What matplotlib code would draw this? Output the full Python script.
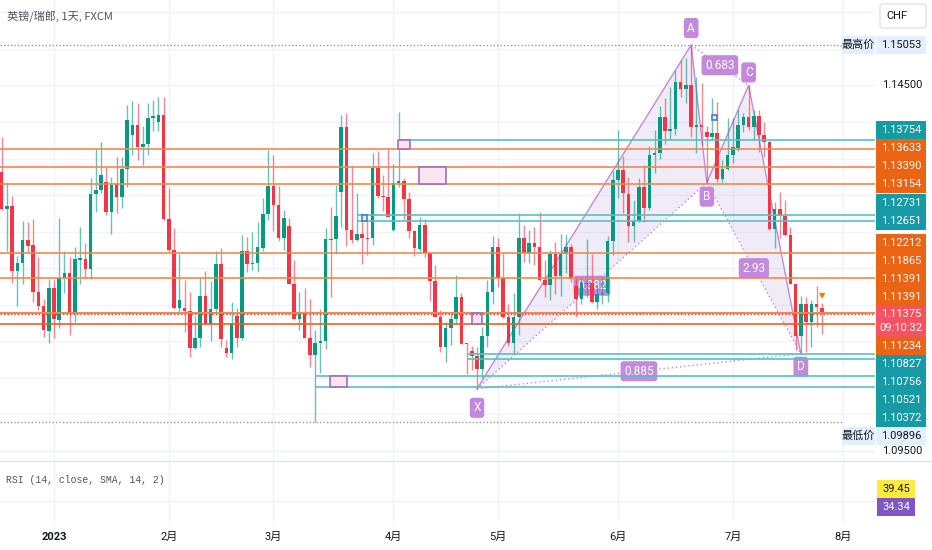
import matplotlib
matplotlib.use('Agg')
import matplotlib.pyplot as plt
from matplotlib.patches import Rectangle, FancyBboxPatch, Polygon
from matplotlib.lines import Line2D
import pandas as pd

plt.rcParams['font.family'] = ['Roboto', 'Noto Sans CJK SC', 'DejaVu Sans']

# GBP/CHF daily candles (from 2022-12-19)
opens = [1.1332, 1.1281, 1.1285, 1.1196, 1.1207, 1.1239, 1.1232, 1.1167, 1.1148, 1.1114,
         1.1173, 1.1129, 1.1187, 1.1193, 1.1137, 1.1211, 1.1213, 1.1199, 1.1302, 1.1307,
         1.1318, 1.1277, 1.1315, 1.1297, 1.1336, 1.1382, 1.1396, 1.1366, 1.1370, 1.1405,
         1.1400, 1.1410, 1.1267, 1.1225, 1.1146, 1.1146, 1.1141, 1.1091, 1.1105, 1.1162,
         1.1124, 1.1144, 1.1206, 1.1091, 1.1084, 1.1135, 1.1105, 1.1224, 1.1206, 1.1207,
         1.1228, 1.1274, 1.1313, 1.1287, 1.1241, 1.1258, 1.1178, 1.1131, 1.1139, 1.1105,
         1.1081, 1.1098, 1.1100, 1.1240, 1.1240, 1.1304, 1.1393, 1.1252, 1.1239, 1.1247,
         1.1241, 1.1241, 1.1337, 1.1299, 1.1297, 1.1252, 1.1317, 1.1319, 1.1295, 1.1251,
         1.1226, 1.1259, 1.1221, 1.1182, 1.1133, 1.1092, 1.1118, 1.1131, 1.1161, 1.1098,
         1.1087, 1.1080, 1.1062, 1.1107, 1.1167, 1.1229, 1.1187, 1.1133, 1.1098, 1.1133,
         1.1241, 1.1221, 1.1235, 1.1229, 1.1184, 1.1177, 1.1219, 1.1189, 1.1219, 1.1229,
         1.1176, 1.1158, 1.1178, 1.1180, 1.1154, 1.1165, 1.1166, 1.1237, 1.1321, 1.1334,
         1.1302, 1.1258, 1.1265, 1.1311, 1.1282, 1.1355, 1.1358, 1.1407, 1.1388, 1.1390,
         1.1455, 1.1445, 1.1451, 1.1393, 1.1396, 1.1386, 1.1379, 1.1385, 1.1322, 1.1336,
         1.1355, 1.1364, 1.1396, 1.1407, 1.1393, 1.1408, 1.1382, 1.1373, 1.1254, 1.1281,
         1.1271, 1.1245, 1.1178, 1.1107, 1.1151, 1.1126, 1.1151, 1.1146]
highs = [1.1379, 1.1317, 1.1299, 1.1217, 1.1265, 1.1263, 1.1267, 1.1215, 1.1158, 1.1185,
         1.1184, 1.1269, 1.1224, 1.1215, 1.1229, 1.1256, 1.1235, 1.1323, 1.1364, 1.1373,
         1.1338, 1.1325, 1.1352, 1.1352, 1.1423, 1.1429, 1.1426, 1.1395, 1.1426, 1.1430,
         1.1434, 1.1434, 1.1310, 1.1255, 1.1219, 1.1184, 1.1167, 1.1135, 1.1188, 1.1196,
         1.1182, 1.1224, 1.1228, 1.1102, 1.1154, 1.1146, 1.1245, 1.1243, 1.1250, 1.1263,
         1.1296, 1.1362, 1.1355, 1.1313, 1.1280, 1.1269, 1.1211, 1.1167, 1.1173, 1.1158,
         1.1116, 1.1144, 1.1255, 1.1284, 1.1314, 1.1410, 1.1412, 1.1341, 1.1303, 1.1276,
         1.1266, 1.1358, 1.1360, 1.1328, 1.1364, 1.1343, 1.1414, 1.1323, 1.1304, 1.1252,
         1.1270, 1.1267, 1.1221, 1.1204, 1.1143, 1.1126, 1.1139, 1.1191, 1.1166, 1.1098,
         1.1094, 1.1092, 1.1120, 1.1184, 1.1244, 1.1241, 1.1221, 1.1151, 1.1166, 1.1276,
         1.1259, 1.1252, 1.1256, 1.1277, 1.1211, 1.1225, 1.1236, 1.1247, 1.1245, 1.1233,
         1.1188, 1.1188, 1.1240, 1.1219, 1.1178, 1.1188, 1.1244, 1.1333, 1.1389, 1.1354,
         1.1325, 1.1293, 1.1323, 1.1341, 1.1367, 1.1389, 1.1422, 1.1433, 1.1448, 1.1471,
         1.1485, 1.1488, 1.15053, 1.1462, 1.1453, 1.1395, 1.1433, 1.1427, 1.1348, 1.1405,
         1.1405, 1.1416, 1.1412, 1.1450, 1.1416, 1.1416, 1.1400, 1.1374, 1.1291, 1.1304,
         1.1293, 1.1256, 1.1178, 1.1162, 1.1161, 1.1157, 1.1176, 1.1152]
lows = [1.1280, 1.1224, 1.1180, 1.1148, 1.1178, 1.1222, 1.1154, 1.1143, 1.1106, 1.1098,
        1.1105, 1.1118, 1.1166, 1.1109, 1.1126, 1.1178, 1.1185, 1.1185, 1.1277, 1.1303,
        1.1273, 1.1247, 1.1276, 1.1282, 1.1311, 1.1355, 1.1348, 1.1341, 1.1355, 1.1388,
        1.1388, 1.1266, 1.1222, 1.1144, 1.1139, 1.1113, 1.1079, 1.1090, 1.1092, 1.1122,
        1.1100, 1.1140, 1.1092, 1.1079, 1.1076, 1.1092, 1.1102, 1.1195, 1.1198, 1.1195,
        1.1224, 1.1266, 1.1251, 1.1237, 1.1225, 1.1178, 1.1129, 1.1116, 1.1105, 1.1065,
        1.09896, 1.1057, 1.1090, 1.1161, 1.1219, 1.1256, 1.1230, 1.1235, 1.1237, 1.1206,
        1.1218, 1.1232, 1.1296, 1.1278, 1.1270, 1.1251, 1.1311, 1.1266, 1.1241, 1.1217,
        1.1224, 1.1215, 1.1155, 1.1133, 1.1085, 1.1072, 1.1095, 1.1125, 1.1096, 1.1055,
        1.1061, 1.1035, 1.1050, 1.1092, 1.1151, 1.1174, 1.1132, 1.1094, 1.1083, 1.1109,
        1.1209, 1.1207, 1.1204, 1.1182, 1.1161, 1.1157, 1.1165, 1.1162, 1.1193, 1.1181,
        1.1133, 1.1151, 1.1161, 1.1152, 1.1144, 1.1151, 1.1154, 1.1218, 1.1296, 1.1276,
        1.1236, 1.1236, 1.1263, 1.1263, 1.1280, 1.1330, 1.1349, 1.1370, 1.1375, 1.1382,
        1.1434, 1.1426, 1.1379, 1.1358, 1.1369, 1.1317, 1.1375, 1.1318, 1.1318, 1.1334,
        1.1344, 1.1360, 1.1386, 1.1389, 1.1375, 1.1359, 1.1352, 1.1252, 1.1228, 1.1241,
        1.1244, 1.1178, 1.1088, 1.1083, 1.1085, 1.1092, 1.1120, 1.1110]
closes = [1.1281, 1.1285, 1.1196, 1.1207, 1.1239, 1.1230, 1.1167, 1.1148, 1.1116, 1.1173,
          1.1131, 1.1187, 1.1193, 1.1137, 1.1213, 1.1214, 1.1199, 1.1302, 1.1307, 1.1328,
          1.1277, 1.1314, 1.1297, 1.1336, 1.1403, 1.1396, 1.1366, 1.1370, 1.1405, 1.1408,
          1.1410, 1.1267, 1.1225, 1.1146, 1.1157, 1.1141, 1.1091, 1.1105, 1.1162, 1.1124,
          1.1144, 1.1206, 1.1103, 1.1084, 1.1125, 1.1105, 1.1224, 1.1206, 1.1207, 1.1229,
          1.1274, 1.1313, 1.1287, 1.1241, 1.1269, 1.1178, 1.1131, 1.1139, 1.1105, 1.1081,
          1.1098, 1.1100, 1.1240, 1.1239, 1.1271, 1.1393, 1.1252, 1.1239, 1.1247, 1.1241,
          1.1240, 1.1337, 1.1299, 1.1297, 1.1270, 1.1317, 1.1319, 1.1295, 1.1251, 1.1228,
          1.1259, 1.1221, 1.1182, 1.1133, 1.1092, 1.1118, 1.1131, 1.1161, 1.1096, 1.1096,
          1.1080, 1.1062, 1.1107, 1.1167, 1.1229, 1.1187, 1.1133, 1.1098, 1.1133, 1.1241,
          1.1221, 1.1235, 1.1229, 1.1184, 1.1177, 1.1219, 1.1189, 1.1219, 1.1229, 1.1185,
          1.1158, 1.1180, 1.1180, 1.1154, 1.1165, 1.1166, 1.1237, 1.1321, 1.1334, 1.1303,
          1.1258, 1.1265, 1.1311, 1.1282, 1.1355, 1.1358, 1.1407, 1.1388, 1.1390, 1.1455,
          1.1445, 1.1451, 1.1393, 1.1396, 1.1393, 1.1379, 1.1385, 1.1322, 1.1336, 1.1355,
          1.1366, 1.1396, 1.1407, 1.1393, 1.1408, 1.1382, 1.1373, 1.1254, 1.1281, 1.1271,
          1.1245, 1.1178, 1.1107, 1.1151, 1.1126, 1.1151, 1.1147, 1.11375]

dates = pd.bdate_range('2022-12-19', periods=len(closes))

# horizontal levels drawn on the chart
orange_levels = [1.13633, 1.13390, 1.13154, 1.12212, 1.11865, 1.11391, 1.11391, 1.11234]
teal_levels = [1.13754, 1.12731, 1.12651, 1.10827, 1.10756, 1.10521, 1.10372]
teal_start_bar = [76, 68, 68, 89, 89, 60, 60]

# small zone boxes: start bar, end bar, top, bottom
zone_start = [62.8, 69.0, 75.9, 79.9, 90.0, 136.0]
zone_end = [66.1, 70.0, 78.2, 85.1, 92.0, 137.0]
zone_top = [1.10521, 1.12731, 1.13754, 1.13390, 1.11391, 1.14096]
zone_bottom = [1.10372, 1.12651, 1.13633, 1.13154, 1.11234, 1.14027]
zone_edge = ['#9C6FBF', '#4A7FC1', '#9C6FBF', '#9C6FBF', '#9C6FBF', '#4A7FC1']

# XABCD pattern pivots (bar index) and ratio labels
pivot_names = ['X', 'A', 'B', 'C', 'D']
pivot_bars = [91, 132, 135, 143, 153]
ratio_labels = ['0.382', '0.683', '2.93', '0.885']

price_high = 1.15053
price_low = 1.09896
rsi_values = [39.45, 34.34]
countdown = '09:10:32'

month_names = ['2023', '2月', '3月', '4月', '5月', '6月', '7月', '8月']

GREEN = '#089981'
RED = '#F23645'
TEAL_LINE = '#5BBFC2'
ORANGE_LINE = '#F0884A'
TEAL_BOX = '#169BA6'
ORANGE_BOX = '#EB6413'
PURPLE = '#C389DC'
GRID = '#F0F3FA'

W, H = 932, 550
fig = plt.figure(figsize=(W / 100, H / 100), dpi=100)
fig.patch.set_facecolor('white')
ax = fig.add_axes([0, 90 / H, 875 / W, 460 / H])
rsi = fig.add_axes([0, 29 / H, 875 / W, 60 / H])
for a in (ax, rsi):
    for s in a.spines.values():
        s.set_visible(False)
    a.set_xticks([])
    a.set_yticks([])
    a.set_xlim(-0.33, 167.2)
ax.set_ylim(1.09376, 1.15669)
rsi.set_ylim(24, 54)


def fx(x):
    return x / W


def fy(y):
    return 1 - y / H


def price_px(p):
    return H - ax.transData.transform((0, p))[1]


# month grid
all_days = pd.bdate_range('2022-12-19', '2023-08-31')
month_bars = []
for m in [1, 2, 3, 4, 5, 6, 7, 8]:
    first = all_days[(all_days.year == 2023) & (all_days.month == m)][0]
    month_bars.append(list(all_days).index(first))
for b in month_bars:
    ax.axvline(b, color=GRID, lw=1, zorder=0)
    rsi.axvline(b, color=GRID, lw=1, zorder=0)
scale_prices = [1.095 + 0.005 * k for k in range(13)]
for p in scale_prices:
    ax.axhline(p, color=GRID, lw=1, zorder=0)
rsi.axhline(34, color=GRID, lw=1, zorder=0)

# pattern
px_ = list(pivot_bars)
py_ = [lows[pivot_bars[0]], highs[pivot_bars[1]], lows[pivot_bars[2]],
       highs[pivot_bars[3]], lows[pivot_bars[4]]]
ax.add_patch(Polygon(list(zip(px_[0:3], py_[0:3])), closed=True, facecolor='#B39DDB',
                     alpha=0.2, edgecolor='none', zorder=1.2))
ax.add_patch(Polygon(list(zip(px_[2:5], py_[2:5])), closed=True, facecolor='#B39DDB',
                     alpha=0.2, edgecolor='none', zorder=1.2))
ax.plot(px_, py_, color=PURPLE, lw=1, zorder=1.5)
dotted = [(0, 2), (1, 3), (2, 4), (0, 4)]
for (i, j), lab in zip(dotted, ratio_labels):
    ax.plot([px_[i], px_[j]], [py_[i], py_[j]], color=PURPLE, lw=1, ls=(0, (1, 2)), zorder=1.5)
    ax.text((px_[i] + px_[j]) / 2, (py_[i] + py_[j]) / 2, lab, ha='center', va='center',
            color='white', fontsize=8.5, zorder=2,
            bbox=dict(boxstyle='round,pad=0.3,rounding_size=0.25', fc=PURPLE, ec='none'))
offsets = [-19, 17, -14, 13, -13]
for name, x, y, off in zip(pivot_names, px_, py_, offsets):
    ax.annotate(name, xy=(x, y), xytext=(0, off), textcoords='offset pixels', ha='center',
                va='center', color='white', fontsize=8.5, zorder=2,
                bbox=dict(boxstyle='round,pad=0.3,rounding_size=0.25', fc=PURPLE, ec='none'))

# candles
for i in range(len(closes)):
    o, h, l, c = opens[i], highs[i], lows[i], closes[i]
    col = GREEN if c >= o else RED
    ax.vlines(i, l, h, color=col, lw=1, alpha=0.6, zorder=3)
    ax.bar(i, max(abs(c - o), 0.00005), bottom=min(o, c), width=0.68, color=col,
           lw=0, zorder=3.1)

ax.annotate('▼', xy=(len(closes) - 1, highs[-1]), xytext=(0, 8), textcoords='offset pixels',
            ha='center', va='center', color='#F57C00', fontsize=6, family='DejaVu Sans', zorder=4)

# levels
for p in orange_levels:
    col = '#E8601C' if p == orange_levels[-1] else ORANGE_LINE
    ax.axhline(p, color=col, lw=1.3, alpha=0.9, zorder=4)
for p, s in zip(teal_levels, teal_start_bar):
    ax.hlines(p, s, 167.2, color=TEAL_LINE, lw=1.2, zorder=4)
for s, e, t, b, ec in zip(zone_start, zone_end, zone_top, zone_bottom, zone_edge):
    ax.add_patch(Rectangle((s, b), e - s, t - b, facecolor='#FCE4EC', edgecolor=ec,
                           lw=1.2, zorder=4.2))

# high / low / last price lines
ax.hlines(price_high, -0.33, 161.1, color='#9598A1', lw=1, ls=(0, (1, 1.5)), zorder=4)
ax.hlines(price_low, -0.33, 161.1, color='#9598A1', lw=1, ls=(0, (1, 1.5)), zorder=4)
ax.axhline(closes[-1], color=RED, lw=1, ls=(0, (1, 1.5)), zorder=4.5)

# texts
fig.text(fx(7), fy(17), '英镑/瑞郎, 1天, FXCM', ha='left', va='center', fontsize=8,
         color='#50535E', family=['Noto Sans CJK SC', 'DejaVu Sans'])
fig.text(fx(6), fy(480), 'RSI (14, close, SMA, 14, 2)', ha='left', va='center', fontsize=7,
         color='#50535E', family=['Liberation Mono', 'DejaVu Sans Mono'])


def scale_box(y, text, bg, fg, h=18, x0=876, w=50):
    fig.add_artist(Rectangle((fx(x0), fy(y + h / 2)), w / W, h / H, transform=fig.transFigure,
                             facecolor=bg, edgecolor='none', zorder=5))
    fig.text(fx(x0 + w / 2), fy(y), text, ha='center', va='center', color=fg, fontsize=8,
             zorder=6)


# right scale labels, pushed apart around the last price label
labels = [(p, ORANGE_BOX) for p in orange_levels] + [(p, TEAL_BOX) for p in teal_levels]
labels += [(price_high, 'hl'), (price_low, 'hl')]
last = closes[-1]
last_y = price_px(last)
lh = 18
above = sorted([l for l in labels if l[0] > last], key=lambda t: t[0])
below = sorted([l for l in labels if l[0] <= last], key=lambda t: -t[0])
placed = []
bound = last_y - 8
for p, col in above:
    y = min(price_px(p), bound - lh / 2)
    bound = y - lh / 2
    placed.append((y, p, col))
bound = last_y + 23
for p, col in below:
    y = max(price_px(p), bound + lh / 2)
    bound = y + lh / 2
    placed.append((y, p, col))
for y, p, col in placed:
    if col == 'hl':
        scale_box(y, '%.5f' % p, '#E3EFFD', '#131722')
        scale_box(y, '最高价' if p == price_high else '最低价', '#E3EFFD', '#131722',
                  x0=842, w=33)
    else:
        scale_box(y, '%.5f' % p, col, 'white')
fig.add_artist(Rectangle((fx(876), fy(last_y + 23)), 50 / W, 31 / H, transform=fig.transFigure,
                         facecolor='#F7525F', edgecolor='none', zorder=5))
fig.text(fx(901), fy(last_y), '%.5f' % last, ha='center', va='center', color='white',
         fontsize=8, zorder=6)
fig.text(fx(901), fy(last_y + 14), countdown, ha='center', va='center', color='white',
         fontsize=8, zorder=6)

# plain price scale ticks where no label box covers them
taken = [y for y, p, c in placed] + [last_y, last_y + 14]
for p in scale_prices:
    y = price_px(p)
    if 35 < y < 458 and all(abs(y - t) > 14 for t in taken):
        fig.text(fx(902), fy(y), '%.5f' % p, ha='center', va='center', fontsize=8,
                 color='#131722', zorder=2)

# CHF button
fig.add_artist(FancyBboxPatch((fx(880), fy(28)), 46 / W, 24 / H, transform=fig.transFigure,
                              boxstyle='round,pad=0,rounding_size=0.004', facecolor='white',
                              edgecolor='#E0E3EB', lw=1, zorder=5))
fig.text(fx(897), fy(16), 'CHF', ha='center', va='center', fontsize=8, color='#131722', zorder=6)

# RSI value labels
scale_box(489, '%.2f' % rsi_values[0], '#FFEB3B', '#131722', x0=877, w=38)
scale_box(507, '%.2f' % rsi_values[1], '#7E57C2', 'white', x0=877, w=38)

# pane separator
fig.add_artist(Line2D([0, 1], [fy(460.5), fy(460.5)], transform=fig.transFigure,
                      color='#E0E3EB', lw=1, zorder=4))

# month labels
for b, name in zip(month_bars, month_names):
    xp = ax.transData.transform((b, 0))[0]
    fig.text(xp / W, fy(537), name, ha='center', va='center', fontsize=8, color='#131722',
             fontweight='bold' if name == '2023' else 'normal')

fig.savefig('out.png', dpi=100)
